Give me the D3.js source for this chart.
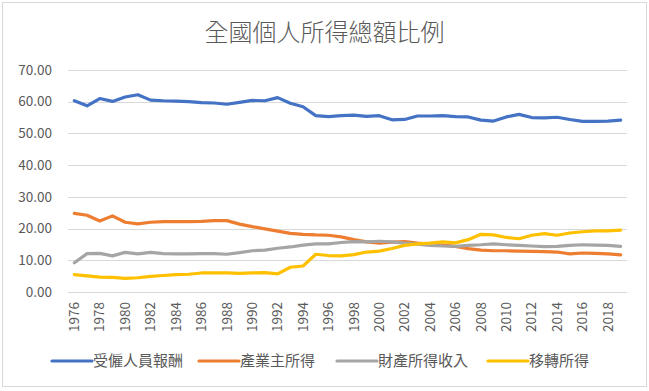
<!DOCTYPE html>
<html lang="zh-TW">
<head>
<meta charset="UTF-8">
<script src="https://cdn.jsdelivr.net/npm/d3@7"></script>
<style>
  body { margin: 0; background: #fff; }
  text { font-family: "Noto Sans CJK TC", "Noto Sans", sans-serif; fill: #595959; }
</style>
</head>
<body>
<div id="chart"></div>
<script>
// 年份 1976-2019
var years = d3.range(1976, 2020);
var yTicks = [0, 10, 20, 30, 40, 50, 60, 70];
var seriesNames = ["受僱人員報酬", "產業主所得", "財產所得收入", "移轉所得"];
var seriesColors = ["#4472C4", "#ED7D31", "#A5A5A5", "#FFC000"];

var compensation = [60.3, 58.7, 61.0, 60.1, 61.5, 62.2, 60.5, 60.3, 60.2, 60.0, 59.7, 59.6, 59.2, 59.8, 60.4, 60.3, 61.3, 59.5, 58.4, 55.6,
  55.3, 55.6, 55.8, 55.4, 55.6, 54.3, 54.4, 55.5, 55.5, 55.6, 55.3, 55.2, 54.2, 53.9, 55.2, 56.0, 55.0, 54.9, 55.1, 54.4,
  53.8, 53.8, 53.9, 54.2];
var entrepreneur = [24.8, 24.2, 22.4, 24.0, 22.0, 21.5, 22.0, 22.2, 22.2, 22.2, 22.3, 22.5, 22.5, 21.4, 20.6, 19.9, 19.2, 18.5, 18.2, 18.0,
  17.9, 17.4, 16.5, 15.8, 15.4, 15.7, 15.9, 15.4, 15.1, 14.8, 14.4, 13.7, 13.2, 13.0, 13.0, 12.9, 12.8, 12.7, 12.6, 12.0,
  12.3, 12.2, 12.0, 11.7];
var property = [9.2, 12.1, 12.2, 11.4, 12.5, 12.0, 12.5, 12.1, 12.0, 12.0, 12.1, 12.1, 11.9, 12.4, 13.0, 13.2, 13.8, 14.2, 14.8, 15.2,
  15.2, 15.6, 15.9, 15.8, 16.0, 15.8, 15.4, 15.1, 14.7, 14.5, 14.4, 14.7, 14.9, 15.2, 14.9, 14.7, 14.5, 14.3, 14.4, 14.7,
  14.9, 14.8, 14.7, 14.4];
var transfer = [5.5, 5.1, 4.7, 4.6, 4.3, 4.5, 4.9, 5.2, 5.5, 5.6, 6.0, 6.0, 6.0, 5.9, 6.0, 6.1, 5.7, 7.8, 8.2, 11.9,
  11.5, 11.4, 11.8, 12.6, 12.9, 13.7, 14.7, 15.2, 15.4, 15.8, 15.5, 16.5, 18.2, 18.0, 17.2, 16.8, 17.9, 18.4, 17.9, 18.6,
  19.0, 19.3, 19.3, 19.5];
var seriesValues = [compensation, entrepreneur, property, transfer];

var width = 649, height = 391;
var margin = { top: 70, right: 22, bottom: 99, left: 68 };

var svg = d3.select("#chart").append("svg")
  .attr("width", width)
  .attr("height", height);

// 外框
svg.append("rect")
  .attr("x", 2.5).attr("y", 2.5)
  .attr("width", width - 5).attr("height", height - 7)
  .attr("fill", "#fff")
  .attr("stroke", "#d9d9d9");

svg.append("text")
  .attr("x", width / 2)
  .attr("y", 41)
  .attr("text-anchor", "middle")
  .style("font-size", "24px")
  .style("font-weight", 300)
  .text("全國個人所得總額比例");

var x = d3.scaleBand()
  .domain(years)
  .range([margin.left, width - margin.right]);

var y = d3.scaleLinear()
  .domain([0, 70])
  .range([height - margin.bottom, margin.top]);

// 格線
svg.append("g")
  .selectAll("line")
  .data(yTicks)
  .enter().append("line")
  .attr("x1", margin.left)
  .attr("x2", width - margin.right)
  .attr("y1", function(d) { return Math.round(y(d)) + 0.5; })
  .attr("y2", function(d) { return Math.round(y(d)) + 0.5; })
  .attr("stroke", "#d9d9d9")
  .attr("stroke-width", 1);

// Y 軸標籤
svg.append("g")
  .selectAll("text")
  .data(yTicks)
  .enter().append("text")
  .attr("x", 52)
  .attr("y", function(d) { return y(d); })
  .attr("dy", "0.35em")
  .attr("text-anchor", "end")
  .style("font-size", "13.5px")
  .text(function(d) { return d.toFixed(2); });

// X 軸標籤 (每兩年)
svg.append("g")
  .selectAll("text")
  .data(years.filter(function(d) { return (d - 1976) % 2 === 0; }))
  .enter().append("text")
  .attr("transform", function(d) {
    return "translate(" + (x(d) + x.bandwidth() / 2) + "," + (y(0) + 10) + ") rotate(-90)";
  })
  .attr("dy", "0.35em")
  .attr("text-anchor", "end")
  .style("font-size", "13.5px")
  .text(function(d) { return d; });

var line = d3.line()
  .x(function(d, i) { return x(years[i]) + x.bandwidth() / 2; })
  .y(function(d) { return y(d); });

svg.append("g")
  .selectAll("path")
  .data(seriesValues)
  .enter().append("path")
  .attr("d", line)
  .attr("fill", "none")
  .attr("stroke", function(d, i) { return seriesColors[i]; })
  .attr("stroke-width", 3.2)
  .attr("stroke-linejoin", "round")
  .attr("stroke-linecap", "round");

// 圖例
var legendX = [52, 199, 337, 488];
var legend = svg.append("g")
  .selectAll("g")
  .data(seriesNames)
  .enter().append("g")
  .attr("transform", function(d, i) { return "translate(" + legendX[i] + ",361)"; });

legend.append("line")
  .attr("x1", 0).attr("x2", 40)
  .attr("stroke", function(d, i) { return seriesColors[i]; })
  .attr("stroke-width", 3.2)
  .attr("stroke-linecap", "round");

legend.append("text")
  .attr("x", 41)
  .attr("dy", "0.35em")
  .style("font-size", "15px")
  .text(function(d) { return d; });
</script>
</body>
</html>
